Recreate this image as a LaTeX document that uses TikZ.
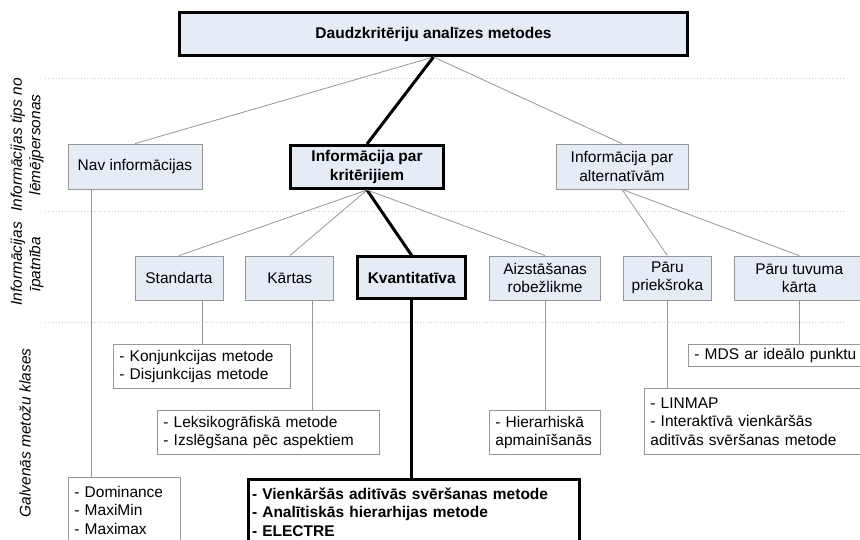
\documentclass[tikz,border=0pt]{standalone}
\usepackage{fontspec}
\setmainfont{Liberation Sans}
\usetikzlibrary{positioning}
\definecolor{boxfill}{RGB}{230,236,246}
\definecolor{boxline}{RGB}{150,150,150}
\definecolor{rowgray}{RGB}{205,205,205}
\newcommand{\mfont}{\fontsize{15.5}{18.5}\selectfont}

\begin{document}
\begin{tikzpicture}[x=1pt, y=-1pt,
        node distance=22pt,
        every node/.style={font=\mfont, inner sep=0pt},
        typebox/.style={rectangle, draw=boxline, fill=boxfill, line width=0.8pt, minimum height=44pt, align=center},
        keybox/.style={typebox, draw=black, line width=3pt, font=\mfont\bfseries},
        rootbox/.style={keybox, minimum width=508pt, minimum height=43pt},
        methodbox/.style={rectangle, draw=boxline, fill=white, line width=0.8pt, align=left, anchor=north west},
        keymethod/.style={methodbox, draw=black, line width=3pt, font=\mfont\bfseries},
        link/.style={draw=boxline, line width=0.8pt},
        keylink/.style={draw=black, line width=3pt},
        rowline/.style={draw=rowgray, dotted, line width=0.8pt},
        rowlabel/.style={rotate=90, align=center, font=\mfont\itshape}
    ]
    \clip (0,0) rectangle (860,540);
    \fill[white] (0,0) rectangle (860,540);

    % Level separators
    \draw[rowline] (45,78) -- (845,78);
    \draw[rowline] (45,211) -- (845,211);
    \draw[rowline] (45,322) -- (845,322);

    % Level labels
    \node[rowlabel] (lbltype) at (27,145) {Informācijas tips no\\lēmējpersonas};
    \node[rowlabel] (lblprop) at (27,264) {Informācijas\\īpatnība};
    \node[rowlabel] (lblclass) at (25,433) {Galvenās metožu klases};

    % Root
    \node (root) [rootbox] at (433.5,34) {Daudzkritēriju analīzes metodes};

    % Row 1: information type
    \node (nav) [typebox, minimum width=134pt, minimum height=45pt] at (135,166.5) {Nav informācijas};
    \node (krit) [keybox, minimum width=153pt, minimum height=43pt] at (367,167) {Informācija par\\kritērijiem};
    \node (alt) [typebox, minimum width=132pt, minimum height=45pt] at (622,166.5) {Informācija par\\alternatīvām};

    % Row 2: information feature
    \node (std) [typebox, minimum width=88pt] at (179,278) {Standarta};
    \node (kart) [typebox, minimum width=88pt, right=of std] {Kārtas};
    \node (kvant) [keybox, minimum width=108pt, minimum height=42pt, right=of kart] {Kvantitatīva};
    \node (aizst) [typebox, minimum width=111pt, right=of kvant] {Aizstāšanas\\robežlikme};
    \node (prk) [typebox, minimum width=88pt, right=of aizst] {Pāru\\priekšroka};
    \node (tuv) [typebox, minimum width=130pt, right=of prk] {Pāru tuvuma\\kārta};

    % Row 3: method classes
    \node (konj) [methodbox, text width=177pt, minimum height=44pt] at (113,344) {\hspace*{6pt}- Konjunkcijas metode\\\hspace*{6pt}- Disjunkcijas metode};
    \node (leks) [methodbox, text width=222pt, minimum height=44pt] at (157,410) {\hspace*{6pt}- Leksikogrāfiskā metode\\\hspace*{6pt}- Izslēgšana pēc aspektiem};
    \node (hier) [methodbox, text width=111pt, minimum height=44pt] at (489,410) {\hspace*{6pt}- Hierarhiskā\\\hspace*{6pt}apmainīšanās};
    \node (linmap) [methodbox, text width=230pt, minimum height=66pt] at (644,388) {\hspace*{6pt}- LINMAP\\\hspace*{6pt}- Interaktīvā vienkāršās\\\hspace*{6pt}aditīvās svēršanas metode};
    \node (mds) [methodbox, text width=190pt, minimum height=22pt] at (688,344) {\hspace*{6pt}- MDS ar ideālo punktu};
    \node (dom) [methodbox, text width=112pt, minimum height=66pt] at (68,477) {\hspace*{6pt}- Dominance\\\hspace*{6pt}- MaxiMin\\\hspace*{6pt}- Maximax};
    \node (vienk) [keymethod, text width=331pt, minimum height=66pt] at (246.5,477.5) {\hspace*{4pt}- Vienkāršās aditīvās svēršanas metode\\\hspace*{4pt}- Analītiskās hierarhijas metode\\\hspace*{4pt}- ELECTRE};

    % Root to row 1
    \draw[link] (root.south) -- (nav.north);
    \draw[keylink] (root.south) -- (krit.north);
    \draw[link] (root.south) -- (alt.north);

    % Row 1 to row 2
    \draw[link] (krit.south) -- (std.north);
    \draw[link] (krit.south) -- (kart.north);
    \draw[keylink] (krit.south) -- (kvant.north);
    \draw[link] (krit.south) -- (aizst.north);
    \draw[link] (alt.south) -- (prk.north);
    \draw[link] (alt.south) -- (tuv.north);

    % Down to method classes
    \coordinate (navdrop) at ([xshift=-44pt]nav.south);
    \coordinate (kartdrop) at ([xshift=23pt]kart.south);
    \draw[link] (navdrop) -- (navdrop |- dom.north);
    \draw[link] (konj.north |- std.south) -- (konj.north);
    \draw[link] (kartdrop) -- (kartdrop |- leks.north);
    \draw[keylink] (kvant.south) -- (kvant.south |- vienk.north);
    \draw[link] (aizst.south) -- (aizst.south |- hier.north);
    \draw[link] (prk.south) -- (prk.south |- linmap.north);
    \draw[link] (tuv.south) -- (tuv.south |- mds.north);
\end{tikzpicture}
\end{document}
